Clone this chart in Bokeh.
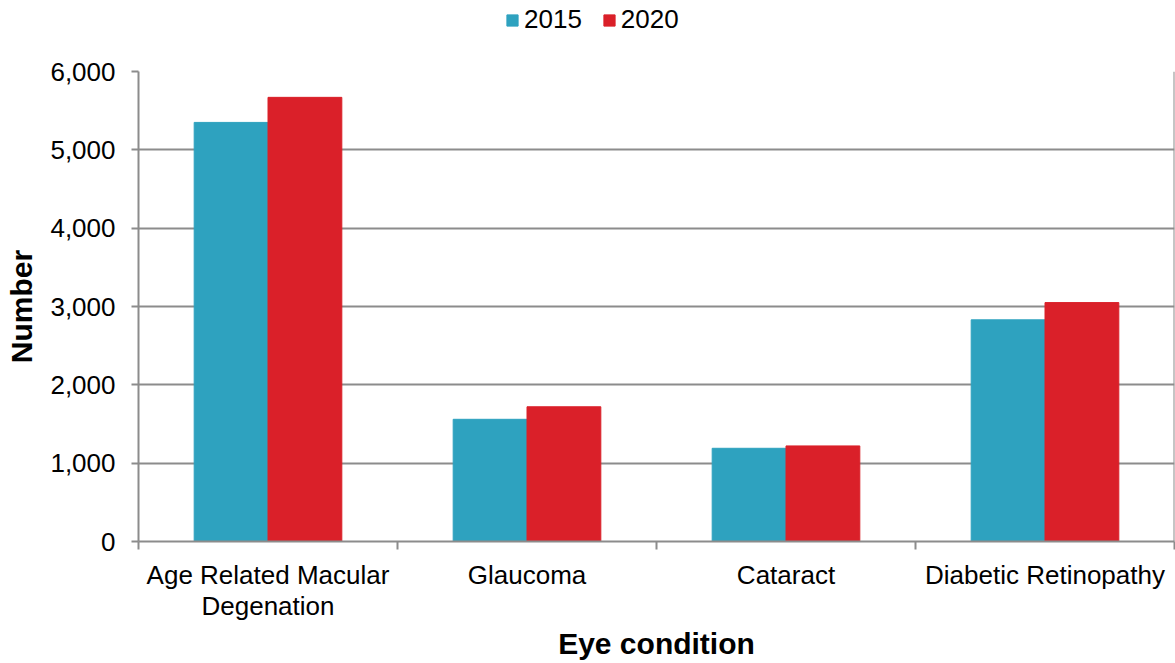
from bokeh.plotting import figure
from bokeh.layouts import column
from bokeh.models import (ColumnDataSource, FixedTicker, NumeralTickFormatter,
                          Legend, LegendItem, Range1d, Span)
from bokeh.embed import file_html
from bokeh.resources import INLINE

categories = ["Age Related Macular Degenation", "Glaucoma", "Cataract", "Diabetic Retinopathy"]
tick_labels = ["Age Related Macular\nDegenation", "Glaucoma", "Cataract", "Diabetic Retinopathy"]
series_names = ["2015", "2020"]
values_2015 = [5350, 1560, 1190, 2830]
values_2020 = [5670, 1720, 1220, 3050]
y_ticks = [0, 1000, 2000, 3000, 4000, 5000, 6000]

COL_2015 = "#2EA2BF"
COL_2020 = "#DA2029"
GRID = "#8C8C8C"
FONT = "Liberation Sans"

W, H_LEG, H_TOTAL = 1175, 40, 663
FRAME_LEFT = 138

n = len(categories)
centers = [i + 0.5 for i in range(n)]
bar_w = 0.285

src = ColumnDataSource(dict(
    cat=categories,
    x15=[c - bar_w / 2 for c in centers],
    x20=[c + bar_w / 2 for c in centers],
    v15=values_2015,
    v20=values_2020,
))

# ---------------- legend strip (hidden renderers, legend only) ----------------
lf = figure(width=W, height=H_LEG, output_backend="svg", toolbar_location=None,
            x_range=Range1d(0, n), y_range=Range1d(0, 6000),
            x_axis_location=None, y_axis_location=None,
            min_border_left=FRAME_LEFT, min_border_right=1, min_border_top=0,
            min_border_bottom=0)
lf.outline_line_color = None
lf.grid.visible = False
d15 = lf.vbar(x="x15", top="v15", width=bar_w, source=src,
              fill_color=COL_2015, line_color=COL_2015, visible=False)
d20 = lf.vbar(x="x20", top="v20", width=bar_w, source=src,
              fill_color=COL_2020, line_color=COL_2020, visible=False)
legend = Legend(items=[LegendItem(label=series_names[0], renderers=[d15]),
                       LegendItem(label=series_names[1], renderers=[d20])],
                orientation="horizontal", location=(505 - FRAME_LEFT, 5),
                glyph_width=14, glyph_height=14, label_standoff=5, spacing=20,
                label_text_font=FONT, label_text_font_size="26px",
                label_text_color="#000000", padding=0, margin=0,
                border_line_color=None, background_fill_alpha=0,
                click_policy="none")
lf.add_layout(legend, "center")

# ---------------- main chart ----------------
p = figure(width=W, height=H_TOTAL - H_LEG, output_backend="svg", toolbar_location=None,
           x_range=Range1d(0, n), y_range=Range1d(0, 6000),
           min_border_left=FRAME_LEFT, min_border_right=1, min_border_top=71 - H_LEG,
           min_border_bottom=121)
p.outline_line_color = None

p.vbar(x="x15", top="v15", width=bar_w, source=src, fill_color=COL_2015,
       line_color=COL_2015)
p.vbar(x="x20", top="v20", width=bar_w, source=src, fill_color=COL_2020,
       line_color=COL_2020)

p.xaxis.ticker = FixedTicker(ticks=centers, minor_ticks=list(range(n + 1)))
p.xaxis.major_label_overrides = {c: lab for c, lab in zip(centers, tick_labels)}
p.xaxis.major_tick_out = 0
p.xaxis.major_tick_in = 0
p.xaxis.minor_tick_out = 8
p.xaxis.minor_tick_in = 0
p.xaxis.minor_tick_line_color = GRID
p.xaxis.minor_tick_line_width = 2
p.xaxis.axis_line_color = GRID
p.xaxis.axis_line_width = 2
p.xaxis.major_label_text_font = FONT
p.xaxis.major_label_text_font_size = "26px"
p.xaxis.major_label_text_line_height = 1.05
p.xaxis.major_label_text_color = "#000000"
p.xaxis.major_label_standoff = 10
p.xaxis.axis_label = "Eye condition"
p.xaxis.axis_label_text_font = FONT
p.xaxis.axis_label_text_font_size = "30px"
p.xaxis.axis_label_text_font_style = "bold"
p.xaxis.axis_label_text_color = "#000000"
p.xaxis.axis_label_standoff = 3

p.yaxis.ticker = FixedTicker(ticks=y_ticks)
p.yaxis.formatter = NumeralTickFormatter(format="0,0")
p.yaxis.major_tick_out = 7
p.yaxis.major_tick_in = 0
p.yaxis.minor_tick_out = 0
p.yaxis.minor_tick_in = 0
p.yaxis.major_tick_line_color = GRID
p.yaxis.major_tick_line_width = 2
p.yaxis.axis_line_color = GRID
p.yaxis.axis_line_width = 2
p.yaxis.major_label_text_font = FONT
p.yaxis.major_label_text_font_size = "26px"
p.yaxis.major_label_text_color = "#000000"
p.yaxis.major_label_standoff = 16
p.yaxis.axis_label = "Number"
p.yaxis.axis_label_text_font = FONT
p.yaxis.axis_label_text_font_size = "30px"
p.yaxis.axis_label_text_font_style = "bold"
p.yaxis.axis_label_text_color = "#000000"
p.yaxis.axis_label_standoff = 9

p.xgrid.grid_line_color = None
p.ygrid.ticker = FixedTicker(ticks=y_ticks)
p.ygrid.grid_line_color = GRID
p.ygrid.grid_line_width = 2

p.add_layout(Span(location=n, dimension="height", line_color=GRID, line_width=2))

layout = column(lf, p, spacing=0)
open("out.html", "w").write(file_html(layout, INLINE))
